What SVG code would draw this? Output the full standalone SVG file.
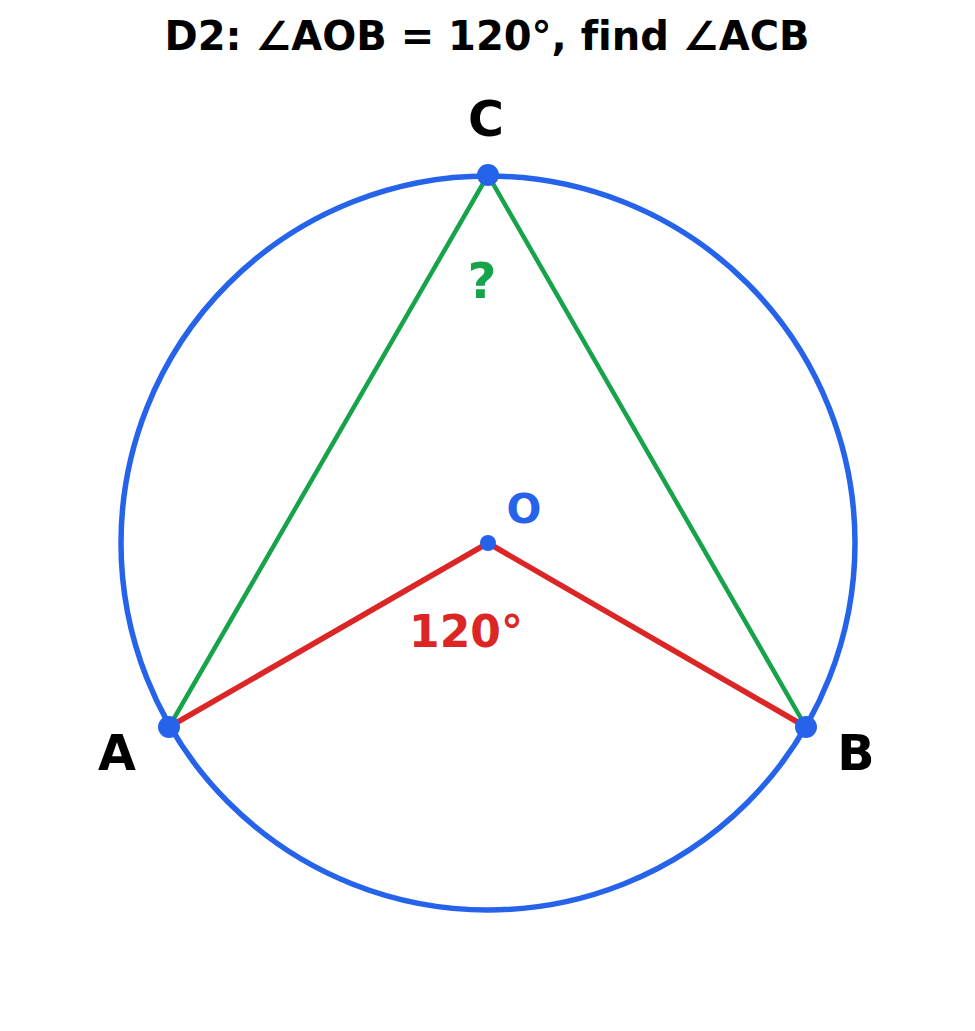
<svg xmlns="http://www.w3.org/2000/svg" width="975" height="1031" viewBox="0 0 975 1031">
<style>
text{font-family:"DejaVu Sans","Liberation Sans",sans-serif;font-weight:bold;text-anchor:middle;font-variant-ligatures:none}
.pt{fill:#2563eb}
.g{stroke:#16a34a;stroke-width:4.5;fill:none;stroke-linecap:round}
.r{stroke:#dc2626;stroke-width:5.5;fill:none;stroke-linecap:round}
</style>
<rect width="975" height="1031" fill="#fff"/>
<text x="487" y="50" font-size="40" fill="#000">D2: ∠AOB = 120°, find ∠ACB</text>
<g id="circle"><circle cx="488" cy="543" r="367" fill="none" stroke="#2563eb" stroke-width="5.5"/></g>
<g id="connectors">
<line class="g" x1="488" y1="175" x2="169" y2="727"/>
<line class="g" x1="488" y1="175" x2="806" y2="727"/>
<line class="r" x1="488" y1="543" x2="169" y2="727"/>
<line class="r" x1="488" y1="543" x2="806" y2="727"/>
</g>
<g id="A"><circle class="pt" cx="169" cy="727" r="11"/><text x="117" y="770" font-size="49">A</text></g>
<g id="B"><circle class="pt" cx="806" cy="727" r="11"/><text x="856" y="770" font-size="49">B</text></g>
<g id="C"><circle class="pt" cx="488" cy="175" r="11"/><text x="486" y="136" font-size="49">C</text></g>
<g id="O"><circle class="pt" cx="488" cy="543" r="8"/><text x="524" y="523" font-size="41" fill="#2563eb">O</text></g>
<g id="angleAOB"><text x="466" y="647" font-size="44" fill="#dc2626">120°</text></g>
<g id="angleACB"><text x="482" y="298" font-size="50" fill="#16a34a">?</text></g>
</svg>
